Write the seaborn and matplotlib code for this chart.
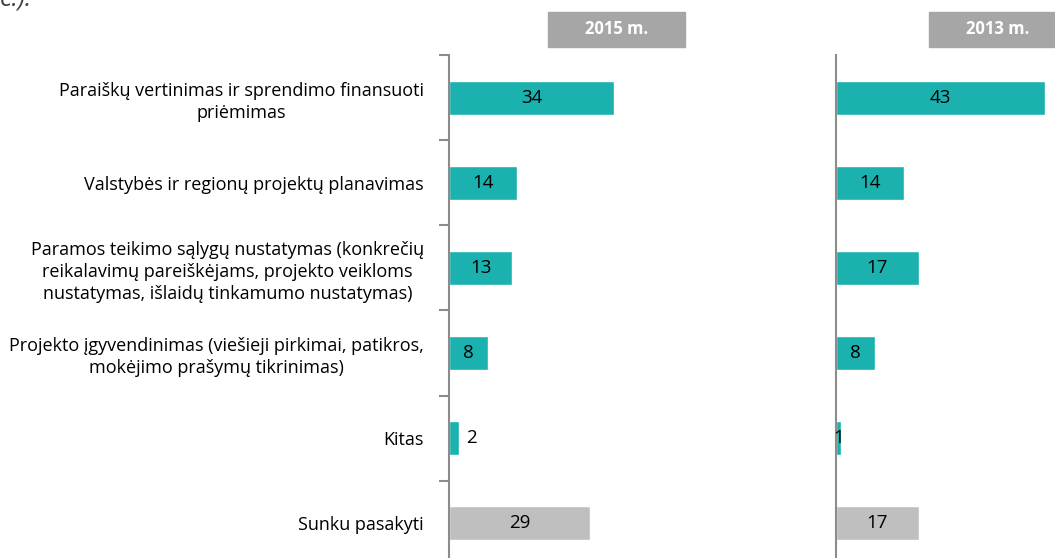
import matplotlib
matplotlib.use("Agg")
import matplotlib.pyplot as plt
from matplotlib.patches import Rectangle
import pandas as pd
import seaborn as sns

# duomenys
categories = [
    "Paraiškų vertinimas ir sprendimo finansuoti\npriėmimas",
    "Valstybės ir regionų projektų planavimas",
    "Paramos teikimo sąlygų nustatymas (konkrečių\nreikalavimų pareiškėjams, projekto veikloms\nnustatymas, išlaidų tinkamumo nustatymas)",
    "Projekto įgyvendinimas (viešieji pirkimai, patikros,\nmokėjimo prašymų tikrinimas)",
    "Kitas",
    "Sunku pasakyti",
]
values_2015 = [34, 14, 13, 8, 2, 29]
values_2013 = [43, 14, 17, 8, 1, 17]
panel_titles = ["2015 m.", "2013 m."]

teal = "#1BB1AE"
grey_bar = "#BFBFBF"
colors = [teal] * 5 + [grey_bar]

sns.set_theme(style="white")
plt.rcParams["font.family"] = ["Open Sans", "DejaVu Sans"]

W, H = 1055, 558
fig = plt.figure(figsize=(W / 100, H / 100), dpi=100)

px = 4.86  # pikseliai vienam procentui
ax_bottom = 1 - 566 / H
ax_height = 511 / H
ax1 = fig.add_axes([449 / W, ax_bottom, 75 * px / W, ax_height])
ax2 = fig.add_axes([836 / W, ax_bottom, 45 * px / W, ax_height])

for ax, vals, xmax in [(ax1, values_2015, 75), (ax2, values_2013, 45)]:
    df = pd.DataFrame({"cat": categories, "val": vals})
    sns.barplot(data=df, x="val", y="cat", hue="cat", palette=colors,
                orient="h", width=0.4, legend=False, ax=ax, saturation=1)
    ax.set_xlim(0, xmax)
    ax.set_ylim(5.5, -0.5)
    ax.set_xlabel("")
    ax.set_ylabel("")
    ax.set_xticks([])
    for s in ["top", "right", "bottom"]:
        ax.spines[s].set_visible(False)
    ax.spines["left"].set_color("#8C8C8C")
    ax.spines["left"].set_linewidth(1.5)
    ax.patch.set_alpha(0)
    # reikšmės
    for bar, v in zip(ax.patches, vals):
        cy = bar.get_y() + bar.get_height() / 2
        if ax is ax1 and v < 5:
            ax.text(v + 1.5, cy, str(v), ha="left", va="center", fontsize=13.5, color="black")
        else:
            ax.text(v / 2, cy, str(v), ha="center", va="center", fontsize=13.5, color="black")

# kairė ašis: kategorijų pavadinimai ir žymės tarp jų
ax1.set_yticks(range(len(categories)))
ax1.set_yticklabels(categories, fontsize=13, color="black",
                    multialignment="center", linespacing=1.3)
ax1.tick_params(axis="y", which="major", length=0, pad=18)
ax1.set_yticks([i - 0.5 for i in range(len(categories))], minor=True)
ax1.tick_params(axis="y", which="minor", length=7, width=1.5, color="#8C8C8C", left=True)
ax2.set_yticks([])

# antraštės
for x0, title in [(548, panel_titles[0]), (929, panel_titles[1])]:
    fig.patches.append(Rectangle((x0 / W, 1 - 47 / H), 137 / W, 35 / H,
                                 transform=fig.transFigure, color="#A6A6A6", zorder=0))
    fig.text((x0 + 68.5) / W, 1 - 29.5 / H, title, ha="center", va="center",
             fontsize=12, fontweight="bold", color="white")

# nukirptas ankstesnio teksto likutis
fig.text(0.0, 1 - 6 / H, "e.).", ha="left", va="baseline", fontsize=18,
         style="italic", color="#404040")

fig.savefig("out.png", dpi=100)
